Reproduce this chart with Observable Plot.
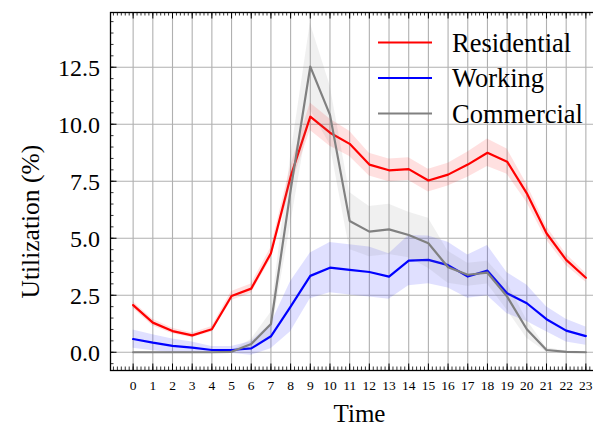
<!DOCTYPE html>
<html>
<head>
<meta charset="utf-8">
<script src="https://cdn.jsdelivr.net/npm/d3@7"></script>
<script src="https://cdn.jsdelivr.net/npm/@observablehq/plot@0.6"></script>
<style>
html, body { margin: 0; padding: 0; background: #fff; overflow: hidden; }
#wrap { position: relative; width: 593px; height: 425px; overflow: hidden; }
#legend { position: absolute; left: 0; top: 0; pointer-events: none; }
</style>
</head>
<body>
<div id="wrap"></div>
<script>
// ---- data ----
const hours = [0,1,2,3,4,5,6,7,8,9,10,11,12,13,14,15,16,17,18,19,20,21,22,23];
const seriesNames = ["Residential", "Working", "Commercial"];
const seriesColors = ["#ff0000", "#0000ff", "#808080"];

const residential     = [2.07,1.30,0.93,0.74,1.01,2.47,2.79,4.34,7.70,10.33,9.63,9.14,8.23,7.98,8.03,7.53,7.79,8.23,8.75,8.36,6.97,5.22,4.05,3.27];
const residentialBand = [0.15,0.15,0.12,0.10,0.12,0.20,0.20,0.25,0.45,0.60,0.60,0.55,0.50,0.50,0.50,0.50,0.50,0.55,0.60,0.55,0.40,0.30,0.25,0.20];
const working         = [0.58,0.42,0.28,0.20,0.10,0.10,0.17,0.70,2.00,3.35,3.71,3.61,3.52,3.32,4.02,4.05,3.82,3.32,3.58,2.59,2.15,1.45,0.95,0.71];
const workingBand     = [0.40,0.35,0.30,0.25,0.15,0.15,0.30,0.55,1.10,1.00,1.10,1.10,1.10,1.00,1.10,1.05,1.00,0.95,1.10,0.90,0.80,0.55,0.50,0.40];
const commercial      = [0.00,0.00,0.00,0.00,0.00,0.02,0.36,1.24,7.10,12.53,10.41,5.76,5.29,5.39,5.14,4.78,3.73,3.40,3.49,2.44,1.01,0.10,0.02,0.00];
const commercialBand  = [0.00,0.00,0.00,0.00,0.00,0.05,0.20,0.50,1.50,1.90,1.30,1.25,1.10,1.10,1.00,1.10,0.70,0.50,0.50,0.60,0.40,0.10,0.03,0.02];

const xTickLabels = hours;
const yTickLabels = [0, 2.5, 5, 7.5, 10, 12.5];
const xMinorTicks = [-1,-0.8,-0.6,-0.4,-0.2,0,0.2,0.4,0.6,0.8,1,1.2,1.4,1.6,1.8,2,2.2,2.4,2.6,2.8,3,3.2,3.4,3.6,3.8,4,4.2,4.4,4.6,4.8,5,5.2,5.4,5.6,5.8,6,6.2,6.4,6.6,6.8,7,7.2,7.4,7.6,7.8,8,8.2,8.4,8.6,8.8,9,9.2,9.4,9.6,9.8,10,10.2,10.4,10.6,10.8,11,11.2,11.4,11.6,11.8,12,12.2,12.4,12.6,12.8,13,13.2,13.4,13.6,13.8,14,14.2,14.4,14.6,14.8,15,15.2,15.4,15.6,15.8,16,16.2,16.4,16.6,16.8,17,17.2,17.4,17.6,17.8,18,18.2,18.4,18.6,18.8,19,19.2,19.4,19.6,19.8,20,20.2,20.4,20.6,20.8,21,21.2,21.4,21.6,21.8,22,22.2,22.4,22.6,22.8,23,23.2,23.4,23.6,23.8,24];
const yMinorTicks = [-0.5,0,0.5,1,1.5,2,2.5,3,3.5,4,4.5,5,5.5,6,6.5,7,7.5,8,8.5,9,9.5,10,10.5,11,11.5,12,12.5,13,13.5,14,14.5];

// ---- build table ----
const means = [residential, working, commercial];
const bands = [residentialBand, workingBand, commercialBand];
const table = [];
seriesNames.forEach((s, k) => {
  hours.forEach((h, i) => {
    table.push({series: s, hour: h, value: means[k][i], lo: means[k][i] - bands[k][i], hi: means[k][i] + bands[k][i]});
  });
});

// ---- layout ----
const W = 593, H = 425;
const mTop = 12, mBottom = 55, mLeft = 110, mRight = -15;
const frameH = H - mTop - mBottom;
const frameW = W - mLeft - mRight;
const major = 6.5, minor = 3.5;
const gridColor = "#b0b0b0";
const font = "'Liberation Serif', 'Times New Roman', serif";

const seriesMarks = [];
seriesNames.forEach((s, k) => {
  const rows = table.filter(d => d.series === s);
  seriesMarks.push(Plot.areaY(rows, {x: "hour", y1: "lo", y2: "hi", fill: seriesColors[k], fillOpacity: 0.12}));
  seriesMarks.push(Plot.lineY(rows, {x: "hour", y: "value", stroke: seriesColors[k], strokeWidth: 2.2}));
});

const chart = Plot.plot({
  width: W, height: H,
  marginTop: mTop, marginBottom: mBottom, marginLeft: mLeft, marginRight: mRight,
  x: {domain: [-1.15, 24.15], axis: null},
  y: {domain: [-0.8, 14.9], axis: null},
  style: {fontFamily: font, overflow: "hidden", background: "white"},
  marks: [
    Plot.ruleX(xTickLabels, {x: d => d, stroke: gridColor, strokeWidth: 1.1}),
    Plot.ruleY(yTickLabels, {y: d => d, stroke: gridColor, strokeWidth: 1.1}),
    ...seriesMarks,
    // inward ticks
    Plot.tickX(xMinorTicks, {x: d => d, insetTop: frameH - minor, stroke: "black", strokeWidth: 0.8}),
    Plot.tickX(xMinorTicks, {x: d => d, insetBottom: frameH - minor, stroke: "black", strokeWidth: 0.8}),
    Plot.tickX(xTickLabels, {x: d => d, insetTop: frameH - major, stroke: "black", strokeWidth: 1}),
    Plot.tickX(xTickLabels, {x: d => d, insetBottom: frameH - major, stroke: "black", strokeWidth: 1}),
    Plot.tickY(yMinorTicks, {y: d => d, insetRight: frameW - minor, stroke: "black", strokeWidth: 0.8}),
    Plot.tickY(yTickLabels, {y: d => d, insetRight: frameW - major, stroke: "black", strokeWidth: 1}),
    Plot.frame({stroke: "black", strokeWidth: 1.3}),
    // tick labels
    Plot.text(xTickLabels, {x: d => d, frameAnchor: "bottom", dy: 15.5, text: d => String(d), fontSize: 13.5, lineAnchor: "middle", fill: "black"}),
    Plot.text(yTickLabels, {y: d => d, frameAnchor: "left", dx: -10.5, dy: 1, text: d => d.toFixed(1), fontSize: 24, textAnchor: "end", lineAnchor: "middle", fill: "black"}),
    // axis titles
    Plot.text(["Time"], {frameAnchor: "bottom", dy: 43, text: d => d, fontSize: 25, lineAnchor: "middle", fill: "black"}),
    Plot.text(["Utilization (%)"], {frameAnchor: "left", dx: -80, dy: 107, rotate: -90, text: d => d, fontSize: 25.5, textAnchor: "start", lineAnchor: "middle", fill: "black"})
  ]
});

const wrap = document.getElementById("wrap");
wrap.appendChild(chart);

// ---- legend (upper right, no frame) ----
const leg = d3.select(wrap).append("svg")
  .attr("id", "legend").attr("width", W).attr("height", H);
seriesNames.forEach((s, k) => {
  const y = 42.5 + k * 35.5;
  leg.append("line").attr("x1", 378).attr("x2", 432).attr("y1", y).attr("y2", y)
    .attr("stroke", seriesColors[k]).attr("stroke-width", 2.2);
  leg.append("text").attr("x", 452).attr("y", y).attr("dy", "0.34em")
    .attr("font-family", font).attr("font-size", 26.5).attr("fill", "black").text(s);
});
</script>
</body>
</html>
